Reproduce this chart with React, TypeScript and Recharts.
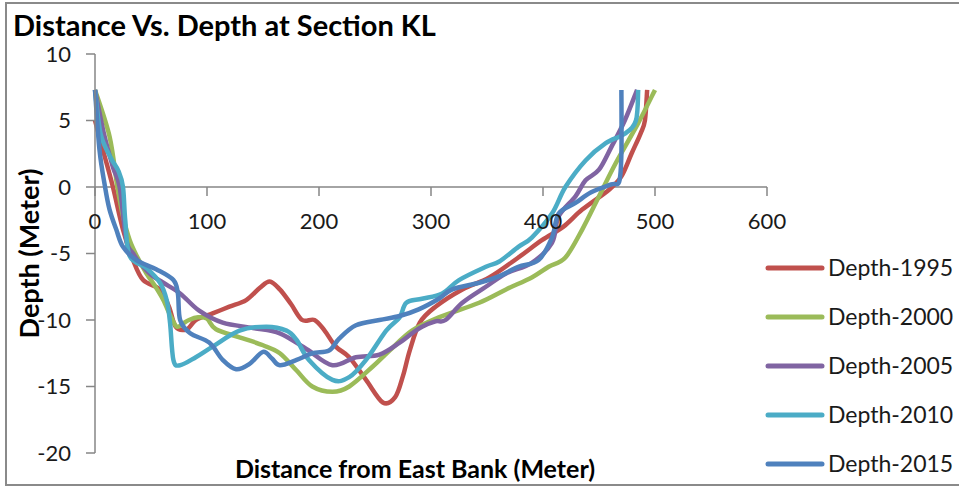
import { LineChart, Line, XAxis, YAxis, Legend, ReferenceLine, ReferenceDot } from 'recharts';

const FONT = 'Lato, "Open Sans", sans-serif';
const AXIS = '#868686';

// [distance (m), depth (m)]
const depth1995 = [
  [0, 5], [8, 2.5], [16, 0], [25, -3.2], [34, -5.5], [43, -7], [58, -7.7], [66, -9], [72, -10.5],
  [82, -10.7], [90, -10], [105, -9.5], [120, -9], [135, -8.5], [147, -7.6], [156, -7.1], [165, -7.7],
  [175, -8.8], [185, -10], [196, -10], [205, -10.8], [215, -12], [227, -12.8], [242, -14.5], [257, -16.2],
  [268, -15.8], [275, -14.2], [281, -12.3], [290, -10.2], [304, -9], [328, -7.7], [352, -6.8], [378, -5.3],
  [399, -4], [418, -3], [435, -1.7], [459, -0.2], [470, 0.8], [479, 2.5], [487, 4], [491, 5], [493, 7.3],
];
const depth2000 = [
  [0, 7.3], [13, 3.8], [20, 0], [25, -2.2], [31, -4], [38, -5.3], [46, -6.5], [54, -7.5], [61, -8.5],
  [68, -9.8], [73, -10.5], [78, -10.3], [84, -10], [92, -9.8], [100, -9.9], [108, -10.7], [129, -11.3],
  [150, -11.9], [165, -12.5], [180, -13.8], [194, -15], [212, -15.4], [227, -15], [248, -13.5], [263, -12.3],
  [283, -10.8], [307, -9.8], [343, -8.7], [367, -7.7], [390, -6.8], [405, -6], [420, -5.3], [435, -3.2],
  [450, -0.7], [465, 1.8], [485, 4.8], [500, 7.3],
];
const depth2005 = [
  [0, 7.3], [8, 4], [16, 1.5], [22, 0], [28, -4], [34, -5], [40, -5.7], [50, -6.6], [61, -7.2], [76, -8],
  [93, -9.3], [114, -10.2], [141, -10.6], [165, -11], [189, -12.2], [212, -13.4], [233, -12.8], [254, -12.6],
  [272, -11.7], [283, -11], [292, -10.5], [304, -10.1], [313, -10], [328, -8.7], [349, -7.5], [367, -6.5],
  [390, -5.7], [408, -4.2], [414, -2.2], [429, -0.7], [438, 0.5], [450, 1.3], [461, 3], [473, 5], [484, 7.3],
];
const depth2010 = [
  [0, 7.3], [5, 4], [14, 2.2], [21, 1.2], [25, 0], [27, -2.5], [31, -5.2], [46, -6.1], [58, -7.2],
  [64, -8.5], [67, -10.2], [70, -13], [76, -13.4], [90, -12.8], [105, -12], [129, -10.8], [153, -10.5],
  [171, -10.8], [180, -11.5], [191, -13], [212, -14.5], [227, -14.3], [242, -13], [260, -10.8], [272, -9.8],
  [278, -8.7], [292, -8.4], [310, -8], [325, -7], [349, -6], [361, -5.6], [378, -4.5], [390, -3.8],
  [408, -2], [420, 0], [438, 2], [456, 3.3], [473, 4], [483, 5], [485, 7.3],
];
const depth2015 = [
  [0, 7.3], [4, 2.8], [9, 0], [13, -1.7], [19, -3.2], [25, -4.5], [37, -5.5], [55, -6.2], [70, -7],
  [74, -8], [76, -10], [85, -11], [102, -11.7], [114, -13], [126, -13.7], [138, -13.3], [150, -12.4],
  [158, -12.9], [165, -13.4], [180, -13], [194, -12.5], [209, -12.3], [218, -11.4], [233, -10.4],
  [254, -10], [272, -9.7], [289, -9.2], [307, -8.4], [319, -7.7], [343, -7.2], [361, -6.7], [378, -6],
  [396, -5.5], [408, -3.8], [414, -2], [429, -1.2], [443, -0.4], [461, 0.2], [468, 0.4], [470, 2.5], [470, 7.3],
];

const seriesNames = ['Depth-1995', 'Depth-2000', 'Depth-2005', 'Depth-2010', 'Depth-2015'];
const seriesColors = ['#C0504D', '#9BBB59', '#8064A2', '#4BACC6', '#4F81BD'];
const seriesPoints = [depth1995, depth2000, depth2005, depth2010, depth2015];

const xTicks = [0, 100, 200, 300, 400, 500, 600];
const yTicks = [-20, -15, -10, -5, 0, 5, 10];

const series = seriesNames.map((name, i) => ({
  name,
  color: seriesColors[i],
  data: seriesPoints[i].map(([x, y]) => ({ x, y })),
}));

// Excel-like smoothed line (Catmull-Rom as bezier)
function smoothCurve(context: any) {
  let pts: number[][] = [];
  return {
    areaStart() {},
    areaEnd() {},
    lineStart() {
      pts = [];
    },
    lineEnd() {
      const n = pts.length;
      if (!n) return;
      context.moveTo(pts[0][0], pts[0][1]);
      for (let i = 0; i < n - 1; i++) {
        const p0 = pts[Math.max(i - 1, 0)];
        const p1 = pts[i];
        const p2 = pts[i + 1];
        const p3 = pts[Math.min(i + 2, n - 1)];
        context.bezierCurveTo(
          p1[0] + (p2[0] - p0[0]) / 6,
          p1[1] + (p2[1] - p0[1]) / 6,
          p2[0] - (p3[0] - p1[0]) / 6,
          p2[1] - (p3[1] - p1[1]) / 6,
          p2[0],
          p2[1],
        );
      }
    },
    point(x: number, y: number) {
      pts.push([+x, +y]);
    },
  };
}

function LegendList({ payload }: any) {
  return (
    <div>
      {(payload || []).map((p: any) => (
        <div key={p.value} style={{ display: 'flex', alignItems: 'center', height: 49 }}>
          <svg width={60} height={10}>
            <line x1={3} y1={5} x2={57} y2={5} stroke={p.color} strokeWidth={5} strokeLinecap="round" />
          </svg>
          <span style={{ fontSize: 23, fontFamily: FONT, color: '#1a1a1a', marginLeft: 3, lineHeight: 1 }}>
            {p.value}
          </span>
        </div>
      ))}
    </div>
  );
}

export default function App() {
  return (
    <div style={{ position: 'absolute', left: 0, top: 0, width: 959, height: 490, overflow: 'hidden', background: '#fff' }}>
      <div
        style={{
          position: 'absolute',
          left: 5,
          top: 2,
          width: 970,
          height: 480,
          border: '2px solid #8a8a8a',
        }}
      />
      <div
        style={{
          position: 'absolute',
          left: 13,
          top: 10,
          fontFamily: FONT,
          fontWeight: 700,
          fontSize: 29,
          lineHeight: 1,
          color: '#000',
          whiteSpace: 'nowrap',
        }}
      >
        Distance Vs. Depth at Section KL
      </div>
      <div style={{ position: 'absolute', left: 0, top: 0 }}>
        <LineChart width={959} height={490} margin={{ top: 54, right: 192, bottom: 0, left: 0 }} style={{ fontFamily: FONT }}>
          <XAxis
            dataKey="x"
            type="number"
            domain={[0, 600]}
            ticks={xTicks}
            axisLine={false}
            tickLine={false}
            tick={false}
            height={37}
            label={{
              value: 'Distance from East Bank (Meter)',
              position: 'insideTop',
              offset: 7,
              dx: -16,
              style: { fontSize: 25, fontWeight: 700, fill: '#000', fontFamily: FONT },
            }}
          />
          <YAxis
            type="number"
            domain={[-20, 10]}
            ticks={yTicks}
            width={95}
            axisLine={{ stroke: AXIS, strokeWidth: 1.5 }}
            tickLine={{ stroke: AXIS, strokeWidth: 1.5 }}
            tickSize={9}
            tickMargin={15}
            tick={{ fontSize: 22, fill: '#1a1a1a', fontFamily: FONT }}
            label={{
              value: 'Depth (Meter)',
              angle: -90,
              position: 'insideLeft',
              offset: 29,
              style: { textAnchor: 'middle', fontSize: 27, fontWeight: 700, fill: '#000', fontFamily: FONT },
            }}
          />
          <ReferenceLine y={0} stroke={AXIS} strokeWidth={1.5} />
          {xTicks.map((t) => (
            <ReferenceLine
              key={'tm' + t}
              segment={[{ x: t, y: 0 }, { x: t, y: -0.68 }]}
              stroke={AXIS}
              strokeWidth={1.5}
            />
          ))}
          {xTicks.map((t) => (
            <ReferenceDot
              key={'tl' + t}
              x={t}
              y={0}
              r={0}
              stroke="none"
              fill="none"
              label={{ value: String(t), position: 'bottom', offset: 26, fontSize: 22, fill: '#1a1a1a', fontFamily: FONT }}
            />
          ))}
          {series.map((s) => (
            <Line
              key={s.name}
              data={s.data}
              dataKey="y"
              name={s.name}
              type={smoothCurve as any}
              stroke={s.color}
              strokeWidth={4.5}
              dot={false}
              activeDot={false}
              isAnimationActive={false}
            />
          ))}
          <Legend
            layout="vertical"
            align="center"
            verticalAlign="middle"
            content={<LegendList />}
            wrapperStyle={{ left: 765, top: 243, width: 194 }}
          />
        </LineChart>
      </div>
    </div>
  );
}
